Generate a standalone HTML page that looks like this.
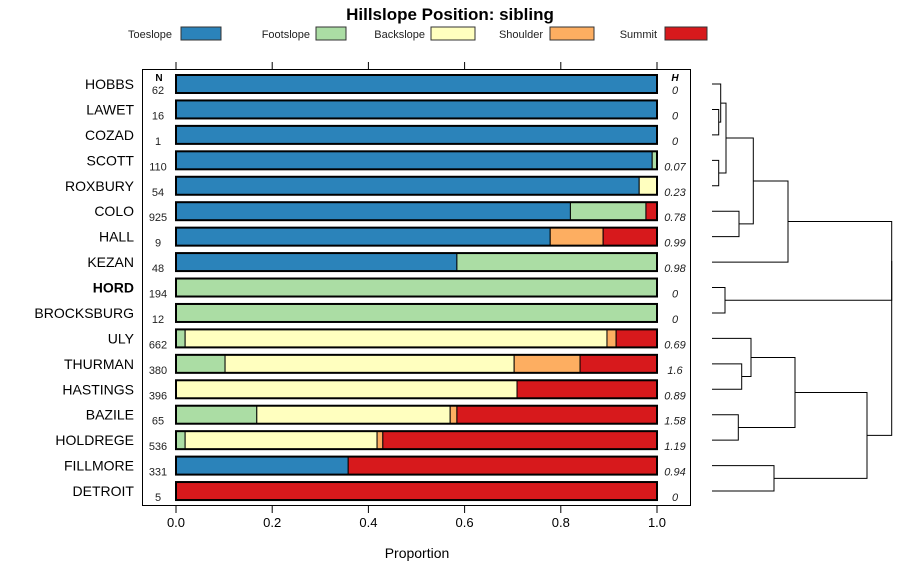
<!DOCTYPE html>
<html><head><meta charset="utf-8"><style>
body{margin:0;background:#fff;}
svg{display:block;font-family:"Liberation Sans",sans-serif;}
</style></head><body>
<svg id="chart" width="900" height="580"></svg>
<script>
const categories=["HOBBS","LAWET","COZAD","SCOTT","ROXBURY","COLO","HALL","KEZAN","HORD","BROCKSBURG","ULY","THURMAN","HASTINGS","BAZILE","HOLDREGE","FILLMORE","DETROIT"];
const classes=["Toeslope","Footslope","Backslope","Shoulder","Summit"];
const colors=["#2B83BA","#ABDDA4","#FFFFBF","#FDAE61","#D7191C"];
const toeslope=[1,1,1,0.99,0.963,0.82,0.778,0.584,0,0,0,0,0,0,0,0.358,0];
const footslope=[0,0,0,0.01,0,0.157,0,0.416,1,1,0.019,0.102,0,0.168,0.019,0,0];
const backslope=[0,0,0,0,0.037,0,0,0,0,0,0.877,0.601,0.709,0.402,0.399,0,0];
const shoulder=[0,0,0,0,0,0,0.11,0,0,0,0.019,0.137,0,0.014,0.012,0,0];
const summit=[0,0,0,0,0,0.023,0.112,0,0,0,0.085,0.16,0.291,0.416,0.57,0.642,1];
const nValues=["62","16","1","110","54","925","9","48","194","12","662","380","396","65","536","331","5"];
const hValues=["0","0","0","0.07","0.23","0.78","0.99","0.98","0","0","0.69","1.6","0.89","1.58","1.19","0.94","0"];
const ticks=[0,0.2,0.4,0.6,0.8,1.0];
const tickLabels=["0.0","0.2","0.4","0.6","0.8","1.0"];
// dendrogram merges: [leftNode,rightNode,height]; leaves are row indices, internal nodes "m"+k
const merges=[[1,2,6.7],[0,"m0",8.7],[3,4,6.7],["m1","m2",14],[5,6,27],["m3","m4",41.3],["m5",7,76],[8,9,13],[12,11,29.7],[10,"m8",39],[13,14,26.3],["m9","m10",83],[15,16,62],["m11","m12",155],["m6","m7",179.7],["m14","m13",179.7]];

const svg=document.getElementById('chart');
const NS="http://www.w3.org/2000/svg";
function el(t,a,txt){const e=document.createElementNS(NS,t);for(const k in a)e.setAttribute(k,a[k]);if(txt!==undefined)e.textContent=txt;svg.appendChild(e);return e;}
const x0=176,x1=657;
const xs=v=>x0+v*(x1-x0);
const ys=i=>84+i*25.44;
const bh=18;

let e=el('text',{x:450,y:20,'text-anchor':'middle','font-size':17,'font-weight':'bold'},'Hillslope Position: sibling');



const legX=[[172,181],[310,316],[425,431],[543,550],[657,665]];
const legW=[40,30,44,44,42];
classes.forEach((c,k)=>{
  let t=el('text',{x:legX[k][0],y:38,'text-anchor':'end','font-size':11,fill:'#222'},c);
  
  
  let r=el('rect',{x:legX[k][1],y:27,width:legW[k],height:13,fill:colors[k],stroke:'#333','stroke-width':1});
  
  
});

e=el('rect',{x:142.5,y:69.5,width:548,height:436,fill:'none',stroke:'#000','stroke-width':1});



ticks.forEach((v,k)=>{
  let t=el('line',{x1:xs(v),x2:xs(v),y1:62,y2:69,stroke:'#000'});
  
  
  t=el('line',{x1:xs(v),x2:xs(v),y1:506,y2:513,stroke:'#000'});
  
  
  t=el('text',{x:xs(v),y:527,'text-anchor':'middle','font-size':13},tickLabels[k]);
  
  
});
e=el('text',{x:417,y:558,'text-anchor':'middle','font-size':14},'Proportion');


e=el('text',{x:159,y:81,'text-anchor':'middle','font-size':10,'font-weight':'bold'},'N');


e=el('text',{x:675,y:81,'text-anchor':'middle','font-size':10,'font-weight':'bold','font-style':'italic'},'H');



const series=[toeslope,footslope,backslope,shoulder,summit];
categories.forEach((c,i)=>{
  const y=ys(i);
  let t=el('text',{x:134,y:y+5,'text-anchor':'end','font-size':14,'font-weight':c==='HORD'?'bold':'normal'},c);
  
  
  let acc=0;
  series.forEach((s,k)=>{
    const v=s[i];
    if(v>0){
      let r=el('rect',{x:xs(acc),y:y-bh/2,width:xs(acc+v)-xs(acc),height:bh,fill:colors[k],stroke:'#000','stroke-width':1});
      
      
    }
    acc+=v;
  });
  let o=el('rect',{x:xs(0),y:y-bh/2,width:xs(1)-xs(0),height:bh,fill:'none',stroke:'#000','stroke-width':2});
  
  
  t=el('text',{x:158,y:y+10,'text-anchor':'middle','font-size':11,fill:'#222'},nValues[i]);
  
  
  t=el('text',{x:675,y:y+10,'text-anchor':'middle','font-size':11,'font-style':'italic',fill:'#222'},hValues[i]);
  
  
});

// dendrogram
const leafX=712, hx=h=>leafX+h;
const nodes={};
function pos(n){ if(typeof n==='number') return {x:leafX,y:ys(n)}; return nodes[n]; }
merges.forEach((m,k)=>{
  const a=pos(m[0]),b=pos(m[1]),x=hx(m[2]);
  let p=el('path',{d:`M${a.x},${a.y}H${x}V${b.y}H${b.x}`,fill:'none',stroke:'#000','stroke-width':1});
  
  
  nodes['m'+k]={x:x,y:(a.y+b.y)/2};
});
</script>
</body></html>
